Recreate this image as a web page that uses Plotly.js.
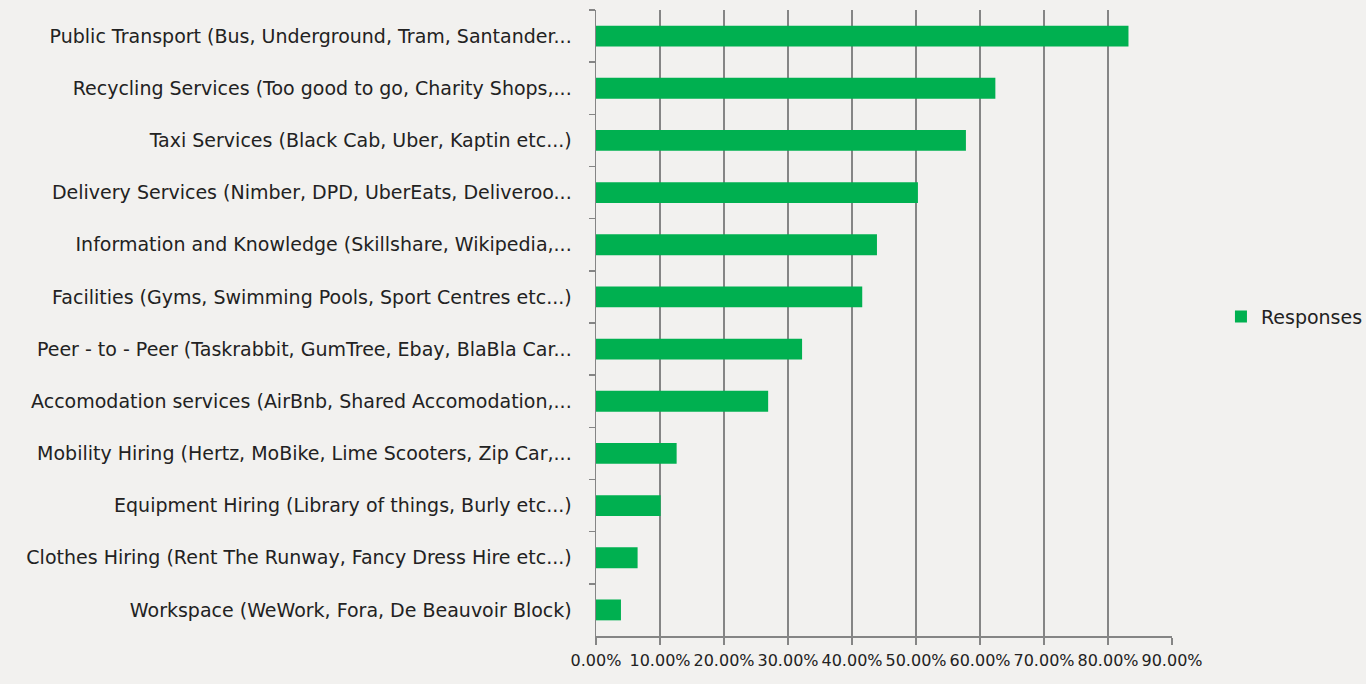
<!DOCTYPE html>
<html>
<head>
<meta charset="utf-8">
<script src="https://cdn.plot.ly/plotly-3.0.1.min.js"></script>
<style>html,body{margin:0;padding:0;background:#f2f1ef;}#chart{width:1366px;height:684px;}</style>
</head>
<body>
<div id="chart"></div>
<script>
const categories = [
  "Public Transport (Bus, Underground, Tram, Santander...",
  "Recycling Services (Too good to go, Charity Shops,...",
  "Taxi Services (Black Cab, Uber, Kaptin etc...)",
  "Delivery Services (Nimber, DPD, UberEats, Deliveroo...",
  "Information and Knowledge (Skillshare, Wikipedia,...",
  "Facilities (Gyms, Swimming Pools, Sport Centres etc...)",
  "Peer - to - Peer (Taskrabbit, GumTree, Ebay, BlaBla Car...",
  "Accomodation services (AirBnb, Shared Accomodation,...",
  "Mobility Hiring (Hertz, MoBike, Lime Scooters, Zip Car,...",
  "Equipment Hiring (Library of things, Burly etc...)",
  "Clothes Hiring (Rent The Runway, Fancy Dress Hire etc...)",
  "Workspace (WeWork, Fora, De Beauvoir Block)"
];
const responses = [0.832, 0.624, 0.578, 0.503, 0.439, 0.416, 0.322, 0.269, 0.126, 0.101, 0.065, 0.039];
const xTicks = [0, 0.1, 0.2, 0.3, 0.4, 0.5, 0.6, 0.7, 0.8, 0.9];
const seriesName = "Responses";

const font = "'DejaVu Sans', sans-serif";
const data = [{
  type: "bar",
  orientation: "h",
  name: seriesName,
  y: categories,
  x: responses,
  marker: {color: "#00b050"},
  showlegend: true
}];
const layout = {
  width: 1366, height: 684,
  paper_bgcolor: "#f2f1ef",
  plot_bgcolor: "#f2f1ef",
  margin: {l: 596, r: 194, t: 10, b: 48, pad: 0, autoexpand: false},
  bargap: 0.6,
  font: {family: font, size: 19, color: "#222"},
  xaxis: {
    range: [0, 0.9],
    tickvals: xTicks,
    tickformat: ".2%",
    tickangle: 0,
    automargin: false,
    showgrid: true, gridcolor: "#858585", gridwidth: 1.5,
    showline: true, linecolor: "#858585", linewidth: 1.5,
    ticks: "outside", ticklen: 7, tickcolor: "#858585", tickwidth: 1.5,
    zeroline: false,
    ticklabelstandoff: 2,
    tickfont: {family: font, size: 16, color: "#222"}
  },
  yaxis: {
    type: "category",
    autorange: "reversed",
    automargin: false,
    showline: true, linecolor: "#858585", linewidth: 1.5,
    ticks: "outside", tickson: "boundaries", ticklen: 6, tickcolor: "#858585", tickwidth: 1.5,
    showgrid: false,
    ticklabelstandoff: 19,
    tickfont: {family: font, size: 19, color: "#222"}
  },
  legend: {
    x: 1.085, xanchor: "left", y: 0.51, yanchor: "middle",
    bgcolor: "rgba(0,0,0,0)",
    font: {family: font, size: 19, color: "#222"},
    itemwidth: 30
  }
};
Plotly.newPlot("chart", data, layout, {displayModeBar: false, staticPlot: true});
</script>
</body>
</html>
